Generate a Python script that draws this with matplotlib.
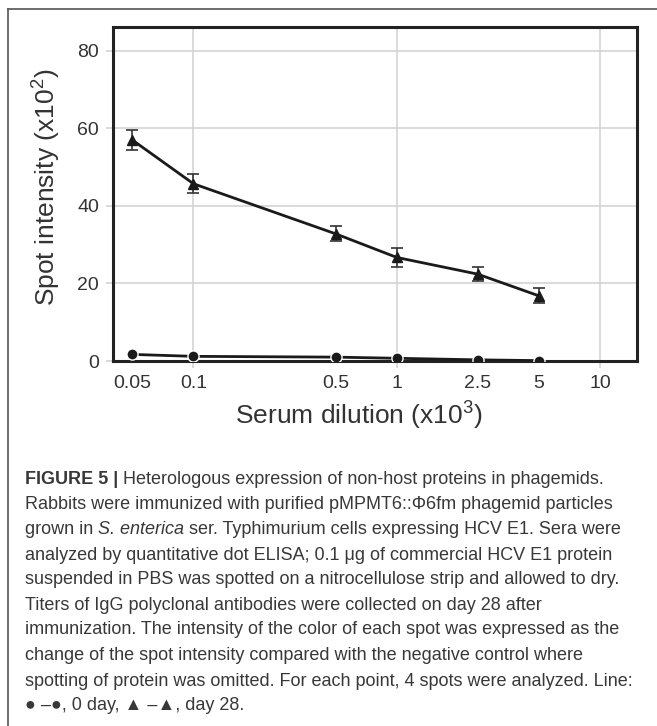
import matplotlib
matplotlib.use("Agg")
import matplotlib.pyplot as plt
from matplotlib.lines import Line2D

# values (spot intensity x10^2)
dilution = [0.05, 0.1, 0.5, 1, 2.5, 5]
day28 = [57.0, 45.7, 32.8, 26.7, 22.4, 16.8]
day28_err = [2.6, 2.4, 1.9, 2.5, 1.8, 1.9]
day0 = [1.7, 1.2, 1.0, 0.7, 0.3, 0.1]

label_ticks = [0.05, 0.5, 2.5, 5]
label_tick_text = ["0.05", "0.5", "2.5", "5"]
grid_ticks = [0.1, 1, 10]
grid_tick_text = ["0.1", "1", "10"]
y_ticks = [0, 20, 40, 60, 80]

caption = [
    [("FIGURE 5 | ", "bold", "normal"),
     ("Heterologous expression of non-host proteins in phagemids.", "normal", "normal")],
    [("Rabbits were immunized with purified pMPMT6::\u03a66fm phagemid particles", "normal", "normal")],
    [("grown in ", "normal", "normal"), ("S. enterica", "normal", "italic"),
     (" ser. Typhimurium cells expressing HCV E1. Sera were", "normal", "normal")],
    [("analyzed by quantitative dot ELISA; 0.1 \u03bcg of commercial HCV E1 protein", "normal", "normal")],
    [("suspended in PBS was spotted on a nitrocellulose strip and allowed to dry.", "normal", "normal")],
    [("Titers of IgG polyclonal antibodies were collected on day 28 after", "normal", "normal")],
    [("immunization. The intensity of the color of each spot was expressed as the", "normal", "normal")],
    [("change of the spot intensity compared with the negative control where", "normal", "normal")],
    [("spotting of protein was omitted. For each point, 4 spots were analyzed. Line:", "normal", "normal")],
    [("\u25cf \u2013\u25cf, 0 day, \u25b2 \u2013\u25b2, day 28.", "normal", "normal")],
]

FONT = ["Liberation Sans", "DejaVu Sans"]
plt.rcParams["font.family"] = FONT
plt.rcParams["mathtext.fontset"] = "custom"
plt.rcParams["mathtext.rm"] = "Liberation Sans"

W, H = 657, 726
fig = plt.figure(figsize=(W / 100, H / 100), dpi=100)
ax = fig.add_axes([113 / W, 1 - 361 / H, (636.5 - 113) / W, (361 - 26.7) / H])

ax.errorbar(dilution, day28, yerr=day28_err, color="#1a1a1a", lw=2, marker="^",
            ms=7.5, ecolor="#333333", elinewidth=1.2, capsize=4, capthick=1.2, zorder=4)
ax.plot(dilution, day0, color="#1a1a1a", lw=2, marker="o", ms=8,
        mec="white", mew=1, zorder=5)

ax.set_xscale("log")
ax.set_xlim(0.0402, 15.1)
ax.set_ylim(0, 86.2)
ax.set_xticks(grid_ticks)
ax.set_xticklabels(grid_tick_text)
ax.set_xticks(label_ticks, minor=True)
ax.set_xticklabels(label_tick_text, minor=True)
ax.set_yticks(y_ticks)
ax.tick_params(which="major", length=5, width=1.2, color="#d4d4d4",
               labelsize=14, labelcolor="#333333", pad=5)
ax.tick_params(which="minor", length=0, labelsize=14, labelcolor="#333333", pad=10)
ax.tick_params(axis="y", pad=5)
ax.grid(True, which="major", color="#d4d4d4", lw=1.2)
ax.set_axisbelow(True)
for s in ax.spines.values():
    s.set_linewidth(2.2)
    s.set_color("#222222")

fig.text(46 / W, 1 - 187 / H, r"Spot intensity (x10$^{\rm 2}$)", rotation=90,
         ha="center", va="center", fontsize=19, color="#333333")
fig.text(359 / W, 1 - 415 / H, r"Serum dilution (x10$^{\rm 3}$)",
         ha="center", va="center", fontsize=19, color="#333333")

# page frame: only top and left edges show
fig.add_artist(Line2D([8 / W, 1], [1 - 8.5 / H] * 2, color="#555555", lw=1.2))
fig.add_artist(Line2D([8 / W] * 2, [0, 1 - 8.5 / H], color="#555555", lw=1.2))

renderer = fig.canvas.get_renderer()
line_y = [479.3, 504.3, 530, 555, 580, 605, 630, 655.7, 681, 706]
for segs, yc in zip(caption, line_y):
    x = 25
    for txt, weight, style in segs:
        t = fig.text(x / W, 1 - yc / H, txt, ha="left", va="center", fontsize=13,
                     color="#383838", fontweight=weight, fontstyle=style)
        x += t.get_window_extent(renderer).width

fig.savefig("out.png", dpi=100)
